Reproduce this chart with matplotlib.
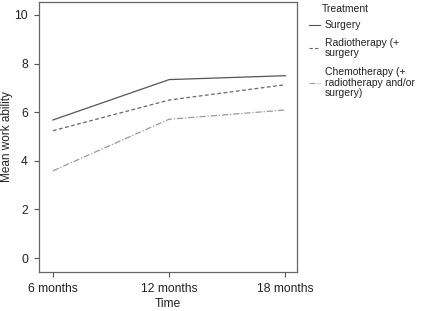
import matplotlib
matplotlib.use("Agg")
import matplotlib.pyplot as plt
from matplotlib.lines import Line2D

plt.rcParams['font.family'] = ['Liberation Sans', 'DejaVu Sans']

times = ["6 months", "12 months", "18 months"]
surgery = [5.68, 7.34, 7.50]
radiotherapy = [5.24, 6.50, 7.13]
chemotherapy = [3.59, 5.71, 6.09]
yticks = [0, 2, 4, 6, 8, 10]

W, H = 421, 311
fig = plt.figure(figsize=(W/100, H/100), dpi=100)
ax = fig.add_axes([39/W, 1 - 272/H, (297-39)/W, (272-2)/H])

x = list(range(len(times)))
ax.plot(x, surgery, color='#555555', lw=0.9, ls='-')
ax.plot(x, radiotherapy, color='#666666', lw=0.9, ls=(0, (3, 2)))
ax.plot(x, chemotherapy, color='#999999', lw=0.9, ls=(0, (5, 1.5, 1, 1.5)))

ax.set_xlim(-0.12, 2.1)
ax.set_ylim(-0.57, 10.53)
ax.set_xticks(x)
ax.set_xticklabels(times)
ax.set_yticks(yticks)
ax.tick_params(labelsize=8.7, length=3.5, color='#555555', width=0.8, colors='#222222')
ax.tick_params(axis='x', pad=4.5)
ax.tick_params(axis='y', pad=4.5)
for s in ax.spines.values():
    s.set_color('#666666')
    s.set_linewidth(0.9)
ax.set_xlabel("Time", fontsize=8.7, labelpad=2, color='#222222')
ax.set_ylabel("Mean work ability", fontsize=8.5, color='#222222', va='center', ha='center')
ax.yaxis.set_label_coords((7 - 39) / 258, 0.5)

# legend
def fx(px): return px / W
def fy(py): return 1 - py / H
fig.text(fx(322), fy(9), "Treatment", fontsize=7.5, va='center', ha='left', color='#222222')
entries = [
    ("Surgery", 25, '#555555', '-', 25),
    ("Radiotherapy (+\nsurgery", 38, '#666666', (0, (3, 2)), 48),
    ("Chemotherapy (+\nradiotherapy and/or\nsurgery)", 67.5, '#999999', (0, (5, 1.5, 1, 1.5)), 83),
]
for label, ty, c, ls, ly in entries:
    fig.text(fx(325), fy(ty), label, fontsize=7.5, va='top' if '\n' in label else 'center',
             ha='left', color='#222222', linespacing=1.05)
    fig.add_artist(Line2D([fx(309), fx(320)], [fy(ly), fy(ly)], color=c, ls=ls, lw=0.8,
                          transform=fig.transFigure))

fig.savefig("out.png", dpi=100)
